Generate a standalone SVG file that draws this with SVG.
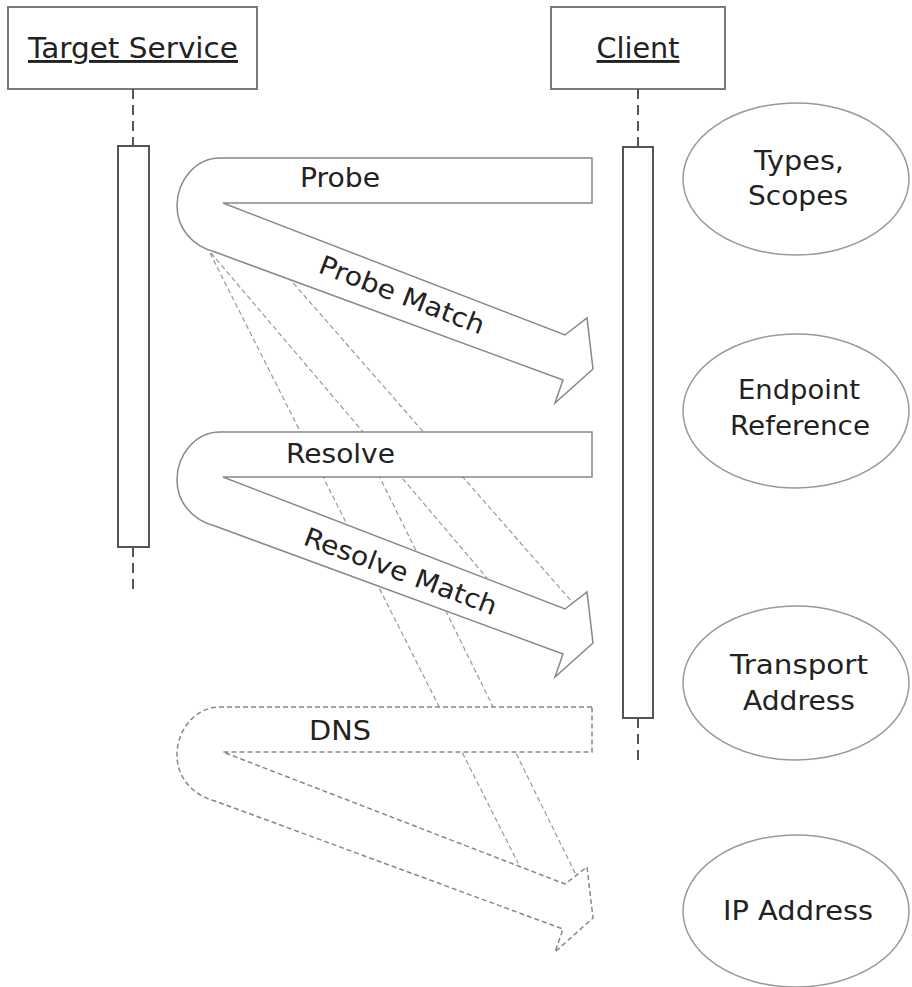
<svg xmlns="http://www.w3.org/2000/svg" width="912" height="987" viewBox="0 0 912 987">
<style>
  text { font-family: "DejaVu Sans", Verdana, sans-serif; fill: #222; }
  .hdr { font-size: 29px; text-decoration: underline; text-anchor: middle; }
  .box { fill: #fff; stroke: #7a7a7a; stroke-width: 2; }
  .bar { fill: #fff; stroke: #555; stroke-width: 2; }
  .life { stroke: #555; stroke-width: 2; stroke-dasharray: 10 6; fill: none; }
  .msg { fill: #fff; stroke: #888; stroke-width: 1.5; stroke-linejoin: miter; }
  .msgd { fill: #fff; stroke: #888; stroke-width: 1.5; stroke-dasharray: 5 3; }
  .lbl { font-size: 26px; }
  .flash { stroke: #999; stroke-width: 1.2; stroke-dasharray: 5 3; fill: none; }
  .ell { fill: #fff; stroke: #999; stroke-width: 1.5; }
  .etx { font-size: 26px; text-anchor: middle; }
</style>
<defs>
  <path id="uarrow" d="M 592 158 L 220 158 C 196 158 177 180 177 206 C 177 228 192 246 215 252 L 563 380 L 555 403 L 593 369 L 587 318 L 565 335 L 223 203 L 592 203 Z"/>
</defs>
<rect width="912" height="987" fill="#fff"/>

<g id="target-service">
  <rect class="box" x="8" y="7" width="249" height="82"/>
  <text class="hdr" x="133" y="58" textLength="210" lengthAdjust="spacingAndGlyphs">Target Service</text>
  <line class="life" x1="133" y1="89" x2="133" y2="146"/>
  <rect class="bar" x="118" y="146" width="31" height="401"/>
  <line class="life" x1="133" y1="547" x2="133" y2="592"/>
</g>

<g id="client">
  <rect class="box" x="551" y="7" width="174" height="82"/>
  <text class="hdr" x="638" y="58" textLength="83" lengthAdjust="spacingAndGlyphs">Client</text>
  <line class="life" x1="638" y1="89" x2="638" y2="147"/>
  <rect class="bar" x="623" y="147" width="30" height="571"/>
  <line class="life" x1="638" y1="718" x2="638" y2="765"/>
</g>

<g id="connectors">
  <line class="flash" x1="210" y1="253" x2="518" y2="863"/>
  <line class="flash" x1="211" y1="253" x2="487" y2="578"/>
  <line class="flash" x1="288" y1="277" x2="573" y2="603"/>
  <line class="flash" x1="357" y1="431" x2="580" y2="883"/>
</g>

<g id="probe">
  <use href="#uarrow" class="msg"/>
  <text class="lbl" x="300" y="187" textLength="80" lengthAdjust="spacingAndGlyphs">Probe</text>
  <text class="lbl" x="317" y="272" textLength="175" lengthAdjust="spacingAndGlyphs" transform="rotate(21 317 272)">Probe Match</text>
</g>

<g id="resolve">
  <use href="#uarrow" class="msg" transform="translate(0 274)"/>
  <text class="lbl" x="286" y="463" textLength="109" lengthAdjust="spacingAndGlyphs">Resolve</text>
  <text class="lbl" x="302" y="544" textLength="204" lengthAdjust="spacingAndGlyphs" transform="rotate(20.5 302 544)">Resolve Match</text>
</g>

<g id="dns">
  <use href="#uarrow" class="msgd" transform="translate(0 549)"/>
  <text class="lbl" x="309" y="740" textLength="62" lengthAdjust="spacingAndGlyphs">DNS</text>
</g>

<g id="types-scopes">
  <ellipse class="ell" cx="796" cy="179" rx="113" ry="76"/>
  <text class="etx" x="799" y="170" textLength="90" lengthAdjust="spacingAndGlyphs">Types,</text>
  <text class="etx" x="798" y="205" textLength="100" lengthAdjust="spacingAndGlyphs">Scopes</text>
</g>

<g id="endpoint-reference">
  <ellipse class="ell" cx="796" cy="411" rx="113" ry="77"/>
  <text class="etx" x="799" y="399" textLength="122" lengthAdjust="spacingAndGlyphs">Endpoint</text>
  <text class="etx" x="800" y="435" textLength="140" lengthAdjust="spacingAndGlyphs">Reference</text>
</g>

<g id="transport-address">
  <ellipse class="ell" cx="796" cy="683" rx="113" ry="77"/>
  <text class="etx" x="799" y="674" textLength="138" lengthAdjust="spacingAndGlyphs">Transport</text>
  <text class="etx" x="799" y="710" textLength="112" lengthAdjust="spacingAndGlyphs">Address</text>
</g>

<g id="ip-address">
  <ellipse class="ell" cx="796" cy="911" rx="113" ry="76"/>
  <text class="etx" x="798" y="920" textLength="150" lengthAdjust="spacingAndGlyphs">IP Address</text>
</g>
</svg>
